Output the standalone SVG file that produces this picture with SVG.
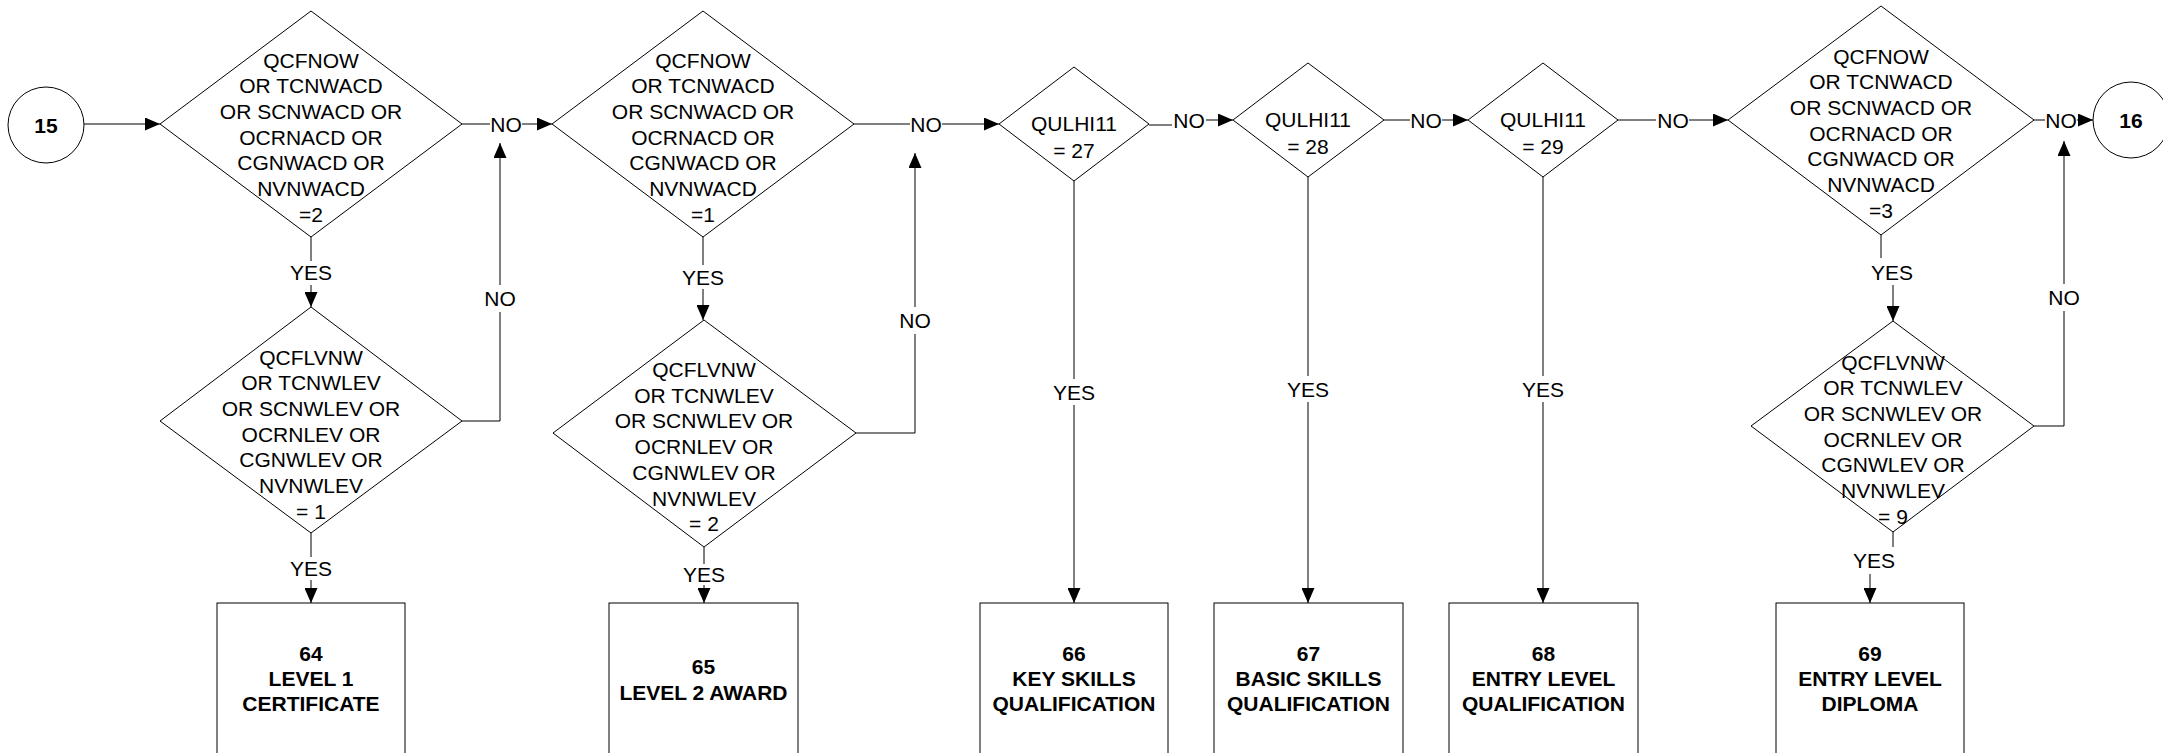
<svg xmlns="http://www.w3.org/2000/svg" width="2163" height="753" viewBox="0 0 2163 753">
<defs>
<style>
.shape{fill:#fff;stroke:#000;stroke-width:1}
.ln{fill:none;stroke:#000;stroke-width:1}
.t{font-family:"Liberation Sans",Arial,sans-serif;font-size:21px;fill:#000;text-anchor:middle}
.b{font-weight:bold}
</style>
<marker id="ah" markerUnits="userSpaceOnUse" markerWidth="15" markerHeight="13" refX="15" refY="6.5" orient="auto">
<path d="M0,0 L15,6.5 L0,13 z" fill="#000"/>
</marker>
</defs>
<rect width="2163" height="753" fill="#fff"/>

<g id="connectors">
<line class="ln" x1="84" y1="124" x2="160" y2="124" marker-end="url(#ah)"/>
<line class="ln" x1="462" y1="124" x2="490" y2="124"/>
<line class="ln" x1="522" y1="124" x2="552" y2="124" marker-end="url(#ah)"/>
<text class="t" x="506" y="131.5">NO</text>
<line class="ln" x1="311" y1="237" x2="311" y2="261"/>
<line class="ln" x1="311" y1="285" x2="311" y2="307" marker-end="url(#ah)"/>
<text class="t" x="311" y="279.5">YES</text>
<polyline class="ln" points="462,421 500,421 500,312"/>
<line class="ln" x1="500" y1="285" x2="500" y2="143" marker-end="url(#ah)"/>
<text class="t" x="500" y="305.5">NO</text>
<line class="ln" x1="311" y1="533" x2="311" y2="557"/>
<line class="ln" x1="311" y1="580" x2="311" y2="603" marker-end="url(#ah)"/>
<text class="t" x="311" y="575.5">YES</text>

<line class="ln" x1="854" y1="124" x2="910" y2="124"/>
<line class="ln" x1="942" y1="124" x2="999" y2="124" marker-end="url(#ah)"/>
<text class="t" x="926" y="131.5">NO</text>
<line class="ln" x1="703" y1="237" x2="703" y2="265"/>
<line class="ln" x1="703" y1="289" x2="703" y2="320" marker-end="url(#ah)"/>
<text class="t" x="703" y="284.5">YES</text>
<polyline class="ln" points="856,433 915,433 915,334"/>
<line class="ln" x1="915" y1="307" x2="915" y2="153" marker-end="url(#ah)"/>
<text class="t" x="915" y="327.5">NO</text>
<line class="ln" x1="704" y1="547" x2="704" y2="564"/>
<line class="ln" x1="704" y1="585" x2="704" y2="603" marker-end="url(#ah)"/>
<text class="t" x="704" y="581.5">YES</text>

<line class="ln" x1="1149" y1="125" x2="1172" y2="125"/>
<line class="ln" x1="1206" y1="120" x2="1233" y2="120" marker-end="url(#ah)"/>
<text class="t" x="1189" y="127.5">NO</text>
<line class="ln" x1="1074" y1="181" x2="1074" y2="379"/>
<line class="ln" x1="1074" y1="405" x2="1074" y2="603" marker-end="url(#ah)"/>
<text class="t" x="1074" y="399.5">YES</text>

<line class="ln" x1="1384" y1="120" x2="1410" y2="120"/>
<line class="ln" x1="1442" y1="120" x2="1468" y2="120" marker-end="url(#ah)"/>
<text class="t" x="1426" y="127.5">NO</text>
<line class="ln" x1="1308" y1="177" x2="1308" y2="376"/>
<line class="ln" x1="1308" y1="402" x2="1308" y2="603" marker-end="url(#ah)"/>
<text class="t" x="1308" y="396.5">YES</text>

<line class="ln" x1="1618" y1="120" x2="1656" y2="120"/>
<line class="ln" x1="1689" y1="120" x2="1728" y2="120" marker-end="url(#ah)"/>
<text class="t" x="1673" y="127.5">NO</text>
<line class="ln" x1="1543" y1="177" x2="1543" y2="376"/>
<line class="ln" x1="1543" y1="402" x2="1543" y2="603" marker-end="url(#ah)"/>
<text class="t" x="1543" y="396.5">YES</text>

<line class="ln" x1="2034" y1="120" x2="2045" y2="120"/>
<line class="ln" x1="2077" y1="120" x2="2093" y2="120" marker-end="url(#ah)"/>
<text class="t" x="2061" y="127.5">NO</text>
<line class="ln" x1="1881" y1="235" x2="1881" y2="258"/>
<line class="ln" x1="1893" y1="285" x2="1893" y2="321" marker-end="url(#ah)"/>
<text class="t" x="1892" y="279.5">YES</text>
<polyline class="ln" points="2034,426 2064,426 2064,311"/>
<line class="ln" x1="2064" y1="284" x2="2064" y2="141" marker-end="url(#ah)"/>
<text class="t" x="2064" y="304.5">NO</text>
<line class="ln" x1="1893" y1="532" x2="1893" y2="547"/>
<line class="ln" x1="1870" y1="574" x2="1870" y2="603" marker-end="url(#ah)"/>
<text class="t" x="1874" y="567.5">YES</text>
</g>

<g id="c15">
<circle class="shape" cx="46" cy="125" r="38"/>
<text class="t b" x="46" y="132.5">15</text>
</g>

<g id="d1">
<polygon class="shape" points="311,11 462,124 311,237 160,124"/>
<text class="t" x="311" y="67.5"><tspan x="311">QCFNOW</tspan><tspan x="311" dy="25.7">OR TCNWACD</tspan><tspan x="311" dy="25.7">OR SCNWACD OR</tspan><tspan x="311" dy="25.7">OCRNACD OR</tspan><tspan x="311" dy="25.7">CGNWACD OR</tspan><tspan x="311" dy="25.7">NVNWACD</tspan><tspan x="311" dy="25.7">=2</tspan></text>
</g>

<g id="d2">
<polygon class="shape" points="311,307 462,421 311,533 160,421"/>
<text class="t" x="311" y="364.5"><tspan x="311">QCFLVNW</tspan><tspan x="311" dy="25.7">OR TCNWLEV</tspan><tspan x="311" dy="25.7">OR SCNWLEV OR</tspan><tspan x="311" dy="25.7">OCRNLEV OR</tspan><tspan x="311" dy="25.7">CGNWLEV OR</tspan><tspan x="311" dy="25.7">NVNWLEV</tspan><tspan x="311" dy="25.7">= 1</tspan></text>
</g>

<g id="d3">
<polygon class="shape" points="703,11 854,124 703,237 552,124"/>
<text class="t" x="703" y="67.5"><tspan x="703">QCFNOW</tspan><tspan x="703" dy="25.7">OR TCNWACD</tspan><tspan x="703" dy="25.7">OR SCNWACD OR</tspan><tspan x="703" dy="25.7">OCRNACD OR</tspan><tspan x="703" dy="25.7">CGNWACD OR</tspan><tspan x="703" dy="25.7">NVNWACD</tspan><tspan x="703" dy="25.7">=1</tspan></text>
</g>

<g id="d4">
<polygon class="shape" points="704,320 856,433 704,547 553,433"/>
<text class="t" x="704" y="377"><tspan x="704">QCFLVNW</tspan><tspan x="704" dy="25.7">OR TCNWLEV</tspan><tspan x="704" dy="25.7">OR SCNWLEV OR</tspan><tspan x="704" dy="25.7">OCRNLEV OR</tspan><tspan x="704" dy="25.7">CGNWLEV OR</tspan><tspan x="704" dy="25.7">NVNWLEV</tspan><tspan x="704" dy="25.7">= 2</tspan></text>
</g>

<g id="d27">
<polygon class="shape" points="1074,67 1149,124 1074,181 999,124"/>
<text class="t" x="1074" y="130.5"><tspan x="1074">QULHI11</tspan><tspan x="1074" dy="27">= 27</tspan></text>
</g>

<g id="d28">
<polygon class="shape" points="1308,63 1384,120 1308,177 1233,120"/>
<text class="t" x="1308" y="126.5"><tspan x="1308">QULHI11</tspan><tspan x="1308" dy="27">= 28</tspan></text>
</g>

<g id="d29">
<polygon class="shape" points="1543,63 1618,120 1543,177 1468,120"/>
<text class="t" x="1543" y="126.5"><tspan x="1543">QULHI11</tspan><tspan x="1543" dy="27">= 29</tspan></text>
</g>

<g id="d5">
<polygon class="shape" points="1881,6 2034,120 1881,235 1728,120"/>
<text class="t" x="1881" y="63.5"><tspan x="1881">QCFNOW</tspan><tspan x="1881" dy="25.7">OR TCNWACD</tspan><tspan x="1881" dy="25.7">OR SCNWACD OR</tspan><tspan x="1881" dy="25.7">OCRNACD OR</tspan><tspan x="1881" dy="25.7">CGNWACD OR</tspan><tspan x="1881" dy="25.7">NVNWACD</tspan><tspan x="1881" dy="25.7">=3</tspan></text>
</g>

<g id="d6">
<polygon class="shape" points="1893,321 2034,426 1893,532 1751,426"/>
<text class="t" x="1893" y="369.5"><tspan x="1893">QCFLVNW</tspan><tspan x="1893" dy="25.7">OR TCNWLEV</tspan><tspan x="1893" dy="25.7">OR SCNWLEV OR</tspan><tspan x="1893" dy="25.7">OCRNLEV OR</tspan><tspan x="1893" dy="25.7">CGNWLEV OR</tspan><tspan x="1893" dy="25.7">NVNWLEV</tspan><tspan x="1893" dy="25.7">= 9</tspan></text>
</g>

<g id="c16">
<circle class="shape" cx="2131" cy="120" r="38"/>
<text class="t b" x="2131" y="127.5">16</text>
</g>

<g id="b64">
<rect class="shape" x="217" y="603" width="188" height="200"/>
<text class="t b" x="311" y="660.5"><tspan x="311">64</tspan><tspan x="311" dy="25">LEVEL 1</tspan><tspan x="311" dy="25">CERTIFICATE</tspan></text>
</g>
<g id="b65">
<rect class="shape" x="609" y="603" width="189" height="200"/>
<text class="t b" x="703.5" y="673.5"><tspan x="703.5">65</tspan><tspan x="703.5" dy="26">LEVEL 2 AWARD</tspan></text>
</g>
<g id="b66">
<rect class="shape" x="980" y="603" width="188" height="200"/>
<text class="t b" x="1074" y="660.5"><tspan x="1074">66</tspan><tspan x="1074" dy="25">KEY SKILLS</tspan><tspan x="1074" dy="25">QUALIFICATION</tspan></text>
</g>
<g id="b67">
<rect class="shape" x="1214" y="603" width="189" height="200"/>
<text class="t b" x="1308.5" y="660.5"><tspan x="1308.5">67</tspan><tspan x="1308.5" dy="25">BASIC SKILLS</tspan><tspan x="1308.5" dy="25">QUALIFICATION</tspan></text>
</g>
<g id="b68">
<rect class="shape" x="1449" y="603" width="189" height="200"/>
<text class="t b" x="1543.5" y="660.5"><tspan x="1543.5">68</tspan><tspan x="1543.5" dy="25">ENTRY LEVEL</tspan><tspan x="1543.5" dy="25">QUALIFICATION</tspan></text>
</g>
<g id="b69">
<rect class="shape" x="1776" y="603" width="188" height="200"/>
<text class="t b" x="1870" y="660.5"><tspan x="1870">69</tspan><tspan x="1870" dy="25">ENTRY LEVEL</tspan><tspan x="1870" dy="25">DIPLOMA</tspan></text>
</g>
</svg>
